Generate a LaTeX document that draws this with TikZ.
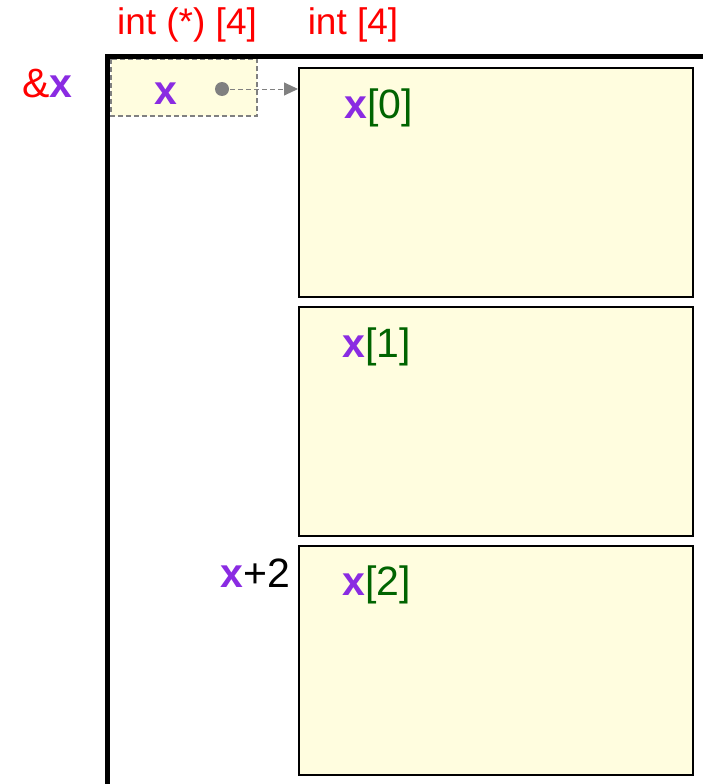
\documentclass[tikz,border=0pt]{standalone}
\usepackage{fontspec}
\setmainfont{Liberation Sans}
\usetikzlibrary{arrows.meta}
\definecolor{cellfill}{RGB}{255,253,223}
\definecolor{vred}{RGB}{255,0,0}
\definecolor{vpurple}{RGB}{138,43,226}
\definecolor{vgreen}{RGB}{0,100,0}
\definecolor{ptrgray}{RGB}{128,128,128}
\newcommand{\vx}{\textcolor{vpurple}{\textbf{x}}}
\tikzset{
  cell/.style={draw=black, line width=2pt, fill=cellfill, rectangle, inner sep=0pt},
  lbl/.style={font=\fontsize{37}{40}\selectfont, inner sep=0pt, anchor=base},
  biglbl/.style={font=\fontsize{41}{44}\selectfont, inner sep=0pt, anchor=base west},
  dashpat/.style={dash pattern=on 5pt off 3pt},
}
\begin{document}
\begin{tikzpicture}[x=1pt,y=-1pt]
\useasboundingbox (0,0) rectangle (703,784);
\begin{scope}
\clip (0,0) rectangle (703,784);
% pointer cell
\path[fill=cellfill, draw=ptrgray, dashpat, line width=1.5pt] (111,59) rectangle (257,116);
% outer frame
\draw[line width=5pt] (107,790) -- (107,57) -- (720,57);
\end{scope}
% array cells
\node[cell, minimum width=394pt, minimum height=229pt, anchor=north west] (b0) at (298,67) {};
\node[cell, minimum width=394pt, minimum height=229pt, anchor=north west] (b1) at (298,306) {};
\node[cell, minimum width=394pt, minimum height=229pt, anchor=north west] (b2) at (298,545) {};
% pointer dot and arrow
\node[circle, fill=ptrgray, minimum size=14pt, inner sep=0pt] (dot) at (222,89) {};
\draw[ptrgray, dashpat, line width=1pt, -{Triangle[length=14pt,width=13pt]}] (dot.center) -- (b0.west |- dot.center);
% labels
\node[lbl, text=vred] (t1) at (187,35) {int (*) [4]};
\node[lbl, text=vred] (t2) at (353,35) {int [4]};
\node[biglbl] (amp) at (22,97) {\textcolor{vred}{\&}\vx};
\node[biglbl, anchor=base] (px) at (166,104) {\vx};
\node[biglbl, text=vgreen] (l0) at (344,118) {\vx[0]};
\node[biglbl, text=vgreen] (l1) at (342,357) {\vx[1]};
\node[biglbl, text=vgreen] (l2) at (342,595) {\vx[2]};
\node[biglbl, anchor=base east] (xp2) at (290,587) {\vx+2};
\end{tikzpicture}
\end{document}
